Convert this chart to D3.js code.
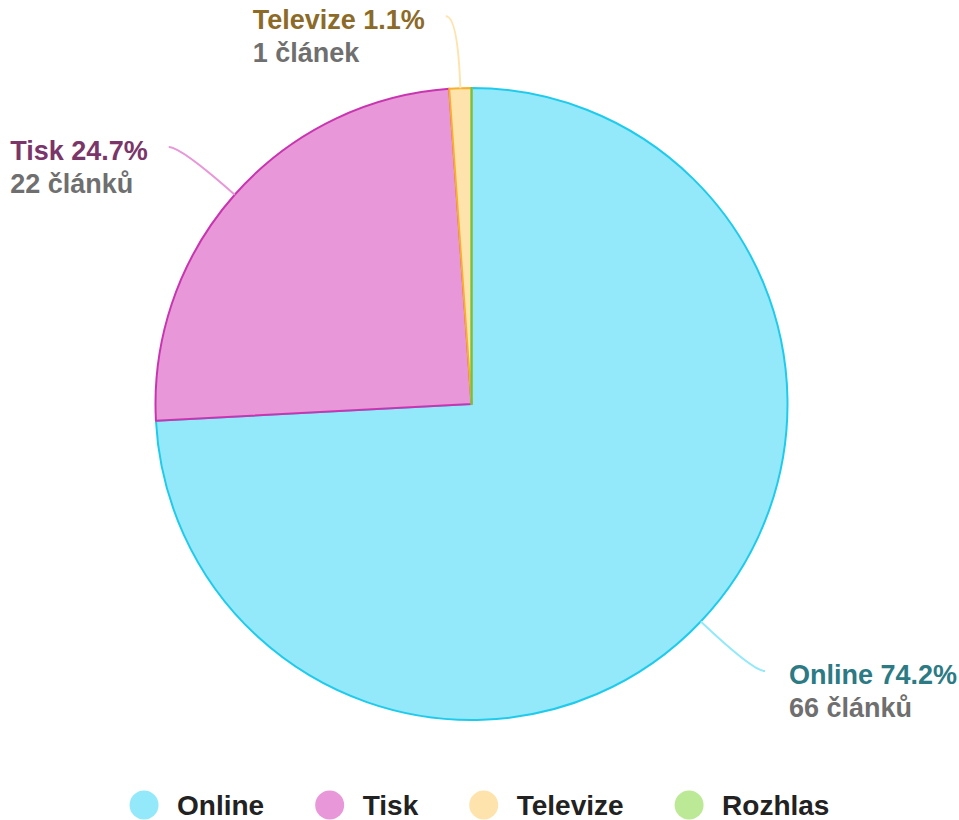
<!DOCTYPE html>
<html>
<head>
<meta charset="utf-8">
<script src="https://cdn.jsdelivr.net/npm/d3@7"></script>
<style>
  html, body { margin: 0; padding: 0; background: #fff; }
  svg { display: block; font-family: "Liberation Sans", Arial, sans-serif; }
</style>
</head>
<body>
<svg id="chart" width="959" height="820"></svg>
<script>
// data
const categories = ["Online", "Tisk", "Televize", "Rozhlas"];
const counts = [66, 22, 1, 0];
const countLabels = ["66 článků", "22 článků", "1 článek", "0 článků"];
const fillColors = ["#93e9f9", "#e897d8", "#ffe3ad", "#bce996"];
const strokeColors = ["#1fcbec", "#c935b1", "#f8b02c", "#6cc63a"];
const labelColors = ["#2b7a84", "#7a3569", "#8c6a28", "#4d7a2a"];

const width = 959, height = 820;
const cx = 471.5, cy = 404, radius = 316;

const svg = d3.select("#chart");
const total = d3.sum(counts);
const data = categories.map((c, i) => ({ name: c, value: counts[i], i }));

const pie = d3.pie().sort(null).value(d => d.value);
const arcs = pie(data);
const arc = d3.arc().innerRadius(0).outerRadius(radius);

const g = svg.append("g").attr("transform", `translate(${cx},${cy})`);

g.selectAll("path.slice")
  .data(arcs)
  .join("path")
  .attr("class", "slice")
  .attr("d", arc)
  .attr("fill", d => fillColors[d.data.i])
  .attr("stroke", d => strokeColors[d.data.i])
  .attr("stroke-width", 2)
  .attr("stroke-linejoin", "round");

// labels with curved leader lines
const ext = 72, horiz = 12;
const shown = arcs.filter(d => d.value > 0);
shown.forEach(d => {
  const a = (d.startAngle + d.endAngle) / 2;
  const sx = Math.sin(a), sy = -Math.cos(a);
  const p0 = [sx * radius, sy * radius];
  const c = [sx * (radius + ext), sy * (radius + ext)];
  const right = sx > 0.001;
  const p1 = [c[0] + (right ? horiz : -horiz), c[1]];
  const i = d.data.i;

  g.append("path")
    .attr("d", `M${p0[0]},${p0[1]}Q${c[0]},${c[1]} ${p1[0]},${p1[1]}`)
    .attr("fill", "none")
    .attr("stroke", fillColors[i])
    .attr("stroke-width", 2);

  const label = g.append("text")
    .attr("y", p1[1] + 13)
    .attr("font-size", 27)
    .attr("font-weight", "bold");
  const l1 = label.append("tspan")
    .attr("fill", labelColors[i])
    .text(`${d.data.name} ${(d.value / total * 100).toFixed(1)}%`);
  const l2 = label.append("tspan")
    .attr("dy", 33)
    .attr("fill", "#6f6f6f")
    .text(countLabels[i]);
  // block is left aligned; left-side blocks end near the leader line
  const bw = Math.max(l1.node().getComputedTextLength(), l2.node().getComputedTextLength());
  const tx = right ? p1[0] + 24 : p1[0] - 21 - bw;
  l1.attr("x", tx);
  l2.attr("x", tx);
});

// legend
const legend = svg.append("g");
const legendY = 805;
const cr = 14.5, textGap = 33, spacing = 51;
const items = legend.selectAll("g.item")
  .data(categories)
  .join("g")
  .attr("class", "item");
items.append("circle")
  .attr("r", cr)
  .attr("cy", legendY)
  .attr("fill", (d, i) => fillColors[i]);
items.append("text")
  .attr("x", textGap)
  .attr("y", legendY + 10)
  .attr("font-size", 28)
  .attr("font-weight", "bold")
  .attr("fill", "#222")
  .text(d => d);

let xpos = 0;
const offsets = [];
items.each(function () {
  const w = this.querySelector("text").getComputedTextLength();
  offsets.push(xpos);
  xpos += cr + textGap + w + spacing;
});
const totalW = xpos - spacing;
const startX = (width - totalW) / 2;
items.attr("transform", (d, i) => `translate(${startX + cr + offsets[i]},0)`);
</script>
</body>
</html>
